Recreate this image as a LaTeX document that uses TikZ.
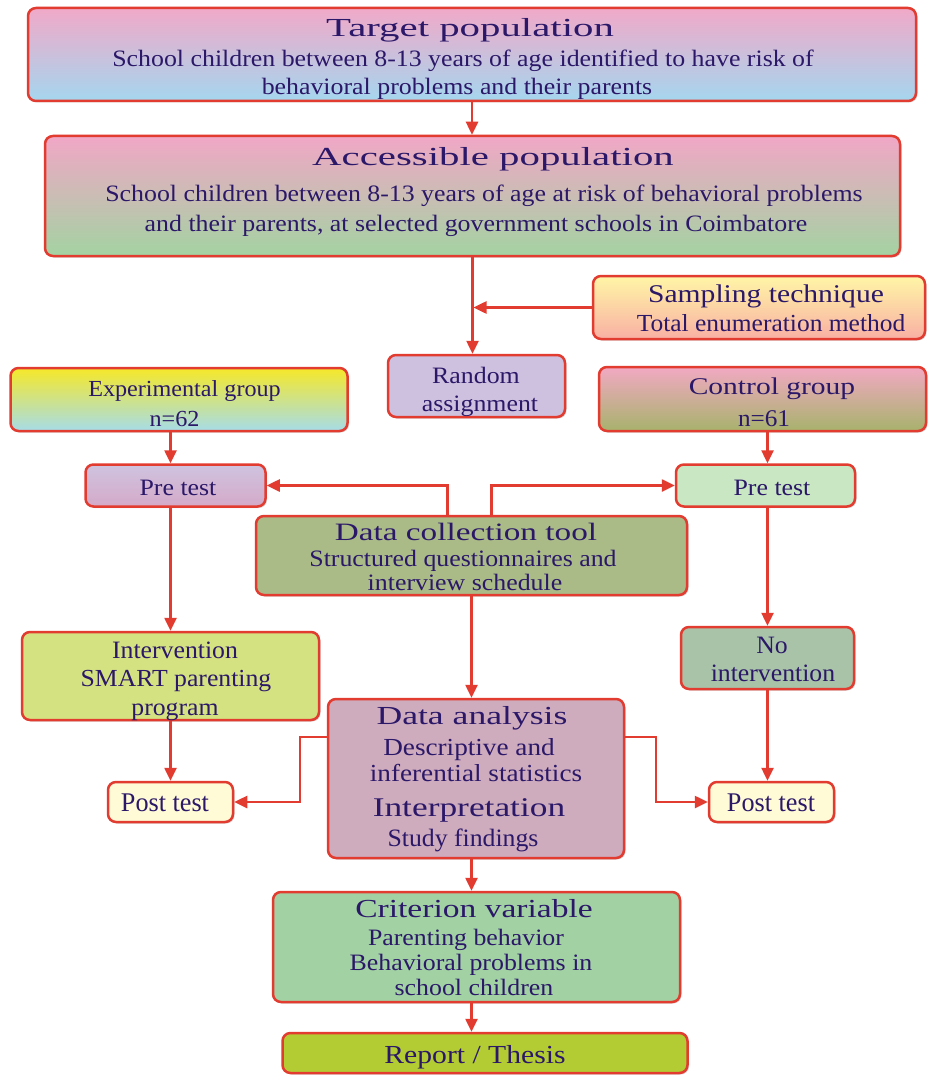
\documentclass[tikz,border=0pt]{standalone}
\usepackage{fontspec}
\setmainfont{Liberation Serif}
\usetikzlibrary{arrows.meta,shadows}
\definecolor{txt}{HTML}{2B1868}
\definecolor{bord}{HTML}{E23B30}
\definecolor{tgtT}{HTML}{F1A9C8}\definecolor{tgtB}{HTML}{A5D6EF}
\definecolor{accT}{HTML}{F1A7C6}\definecolor{accB}{HTML}{A3D3A2}
\definecolor{smpT}{HTML}{FFF6A6}\definecolor{smpB}{HTML}{F9B0A4}
\definecolor{rnd}{HTML}{CEC0DF}
\definecolor{expT}{HTML}{F6E829}\definecolor{expB}{HTML}{A6DCE8}
\definecolor{ctlT}{HTML}{F2A9C3}\definecolor{ctlB}{HTML}{A7B26C}
\definecolor{prlT}{HTML}{CFC3E0}\definecolor{prlB}{HTML}{D4AAC8}
\definecolor{prr}{HTML}{C9E7C2}
\definecolor{dct}{HTML}{AABB88}
\definecolor{itv}{HTML}{D5E282}
\definecolor{nit}{HTML}{A9C3A9}
\definecolor{dan}{HTML}{CEABBD}
\definecolor{pst}{HTML}{FEFBD6}
\definecolor{crt}{HTML}{A2D1A4}
\definecolor{rpt}{HTML}{B4CC33}
\begin{document}
\begin{tikzpicture}[x=1pt,y=-1pt,
  box/.style={draw=bord, line width=2.5pt, rounded corners=8pt, inner sep=0pt,
    drop shadow={shadow xshift=1.5pt, shadow yshift=-1.5pt, opacity=0.25, fill=black!60}},
  tl/.style={anchor=mid, inner sep=0pt, text=txt, yshift=-6pt},
  ln/.style 2 args={tl, font=\fontsize{#1}{#1}\selectfont, xscale=#2},
  tA/.style={ln={26}{1.57}},
  bd/.style={ln={23.5}{1.10}},
  arr/.style={draw=bord, line width=2.5pt, -{Triangle[length=13pt,width=12pt]}},
]
\useasboundingbox (0,0) rectangle (928,1075);
\fill[white] (0,0) rectangle (928,1075);

% ---------- boxes ----------
\node[box, top color=tgtT, bottom color=tgtB, minimum width=888pt, minimum height=93pt] (target) at (472,54.5) {};
\node[box, top color=accT, bottom color=accB, minimum width=855pt, minimum height=120pt] (access) at (472.5,196) {};
\node[box, top color=smpT, bottom color=smpB, minimum width=332pt, minimum height=63pt] (sampling) at (759,307.5) {};
\node[box, fill=rnd, minimum width=177pt, minimum height=62pt] (random) at (476.5,386) {};
\node[box, top color=expT, bottom color=expB, minimum width=337pt, minimum height=63pt] (exp) at (179,399.5) {};
\node[box, top color=ctlT, bottom color=ctlB, minimum width=327pt, minimum height=64pt] (control) at (762.5,399) {};
\node[box, top color=prlT, bottom color=prlB, minimum width=180pt, minimum height=42pt] (preL) at (175.5,485.5) {};
\node[box, fill=prr, minimum width=179pt, minimum height=42pt] (preR) at (765.5,485.5) {};
\node[box, fill=dct, minimum width=431pt, minimum height=79pt] (dctool) at (471.5,555.5) {};
\node[box, fill=itv, minimum width=297pt, minimum height=88pt] (interv) at (170.5,676) {};
\node[box, fill=nit, minimum width=173pt, minimum height=62pt] (noint) at (767.5,658) {};
\node[box, fill=dan, minimum width=296pt, minimum height=159pt] (danal) at (476,778.5) {};
\node[box, fill=pst, minimum width=125pt, minimum height=40pt] (postL) at (170.5,802) {};
\node[box, fill=pst, minimum width=125pt, minimum height=40pt] (postR) at (771.5,802) {};
\node[box, fill=crt, minimum width=407pt, minimum height=110pt] (crit) at (476.5,947) {};
\node[box, fill=rpt, minimum width=405pt, minimum height=40pt] (report) at (485,1053) {};

% ---------- texts ----------
\node[tA] (t1) at (470,28) {Target population};
\node[bd] (t2) at (463,58) {School children between 8-13 years of age identified to have risk of};
\node[bd] (t3) at (457,86) {behavioral problems and their parents};

\node[tA] (a1) at (493,157) {Accessible population};
\node[bd] (a2) at (484,193) {School children between 8-13 years of age at risk of behavioral problems};
\node[bd] (a3) at (476,223) {and their parents, at selected government schools in Coimbatore};

\node[ln={25.5}{1.16}] (s1) at (766,294) {Sampling technique};
\node[ln={24.5}{1.04}] (s2) at (771,323) {Total enumeration method};

\node[bd] (r1) at (476,375) {Random};
\node[bd] (r2) at (480,403) {assignment};

\node[ln={23}{1.05}] (e1) at (184.5,388) {Experimental group};
\node[ln={23}{1.05}] (e2) at (174.5,418) {n=62};

\node[ln={24}{1.23}] (c1) at (772,386) {Control group};
\node[ln={24}{1.05}] (c2) at (764,418) {n=61};

\node[bd] (p1) at (178,487) {Pre test};
\node[bd] (p2) at (772,487) {Pre test};

\node[ln={25}{1.33}] (d1) at (466,532) {Data collection tool};
\node[bd] (d2) at (463,558) {Structured questionnaires and};
\node[bd] (d3) at (465,582) {interview schedule};

\node[ln={25}{1.03}] (i1) at (175,650) {Intervention};
\node[ln={24.5}{1.05}] (i2) at (176,678) {SMART parenting};
\node[ln={24.5}{1.05}] (i3) at (175,707) {program};

\node[ln={25}{1.03}] (n1) at (772,645) {No};
\node[ln={25}{1.03}] (n2) at (773,673) {intervention};

\node[ln={26}{1.37}] (g1) at (472,716) {Data analysis};
\node[ln={24.5}{1.11}] (g2) at (469,747) {Descriptive and};
\node[ln={24.5}{1.11}] (g3) at (476,773) {inferential statistics};
\node[ln={27}{1.31}] (g4) at (469,808) {Interpretation};
\node[ln={25}{1.03}] (g5) at (463,838) {Study findings};

\node[ln={27}{0.97}] (q1) at (165,803) {Post test};
\node[ln={27}{0.97}] (q2) at (771,803) {Post test};

\node[ln={26}{1.29}] (k1) at (474,909) {Criterion variable};
\node[bd] (k2) at (466,937) {Parenting behavior};
\node[bd] (k3) at (471,962) {Behavioral problems in};
\node[bd] (k4) at (474,987) {school children};

\node[ln={26}{1.14}] (w1) at (475,1055) {Report / Thesis};

% ---------- connectors ----------
\draw[arr] (target.south) -- (target.south |- access.north);
\draw[arr] (access.south) -- (access.south |- random.north);
\draw[arr] (sampling.west) -- ([xshift=1pt]access.south |- sampling.west);
\draw[arr] (exp.south -| interv.north) -- (preL.north -| interv.north);
\draw[arr] (control.south -| noint.north) -- (preR.north -| noint.north);
\draw[arr] ([xshift=-24pt]dctool.north) |- (preL.east);
\draw[arr] ([xshift=20pt]dctool.north) |- (preR.west);
\draw[arr] (preL.south -| interv.north) -- (interv.north);
\draw[arr] (preR.south -| noint.north) -- (noint.north);
\draw[arr] (dctool.south) -- (dctool.south |- danal.north);
\draw[arr] (interv.south) -- (interv.south |- postL.north);
\draw[arr] (noint.south) -- (noint.south |- postR.north);
\coordinate (dl) at (300,737);
\coordinate (dr) at (656,737);
\draw[arr] (danal.west |- dl) -- (dl) |- (postL.east);
\draw[arr] (danal.east |- dr) -- (dr) |- (postR.west);
\draw[arr] (dctool.south |- danal.south) -- (dctool.south |- crit.north);
\draw[arr] (dctool.south |- crit.south) -- (dctool.south |- report.north);
\end{tikzpicture}
\end{document}
